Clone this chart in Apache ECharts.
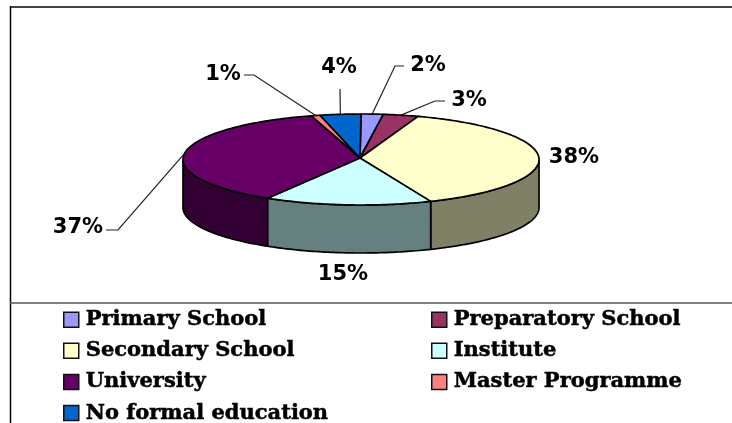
<!DOCTYPE html>
<html>
<head>
<meta charset="utf-8">
<style>html,body{margin:0;padding:0;background:#fff}#main{width:732px;height:423px}</style>
<script src="https://cdn.jsdelivr.net/npm/echarts@6/dist/echarts.min.js"></script>
</head>
<body>
<div id="main"></div>
<script>
var categories = ['Primary School', 'Preparatory School', 'Secondary School', 'Institute', 'University', 'Master Programme', 'No formal education'];
var shares = [2, 3.2, 38.4, 15.2, 36.7, 0.8, 3.7];
var topColors = ['#9999ff', '#993366', '#ffffcc', '#ccffff', '#660066', '#ff8080', '#0066cc'];
var sideColors = ['#4d4d80', '#4d1a33', '#808066', '#668080', '#330033', '#804040', '#003366'];
var leftLegend = ['Primary School', 'Secondary School', 'University', 'No formal education'];
var rightLegend = ['Preparatory School', 'Institute', 'Master Programme'];

// pie ellipse on the canvas
var cx = 361, cy = 159.5, rx = 178, ry = 45.5, depth = 48;

// label centre and leader elbow for each slice (null = no leader)
var labelPos = [[428, 66], [469, 101], [574, 158], [343, 275], [78, 228], [223, 75], [339, 68]];
var elbows = [[[395, 66], [404, 66]], [[435, 101], [445, 101]], null, null, [[118, 230], [106, 230]], [[254, 75], [244, 75]], null];
var leaderEnd = [null, null, null, null, null, null, [340, 89]];

var total = 0;
shares.forEach(function (v) { total += v; });

function pointAt(deg, drop) {
    var a = deg * Math.PI / 180;
    return [cx + rx * Math.sin(a), cy - ry * Math.cos(a) + (drop || 0)];
}

function arcPoints(from, to, drop) {
    var pts = [];
    var n = Math.max(2, Math.ceil(Math.abs(to - from)));
    for (var i = 0; i <= n; i++) {
        pts.push(pointAt(from + (to - from) * i / n, drop));
    }
    return pts;
}

function makeRenderItem(index) {
    return function (params, api) {
        var before = 0;
        for (var i = 0; i < index; i++) before += shares[i];
        var start = before / total * 360;
        var end = start + api.value(0) / total * 360;
        var mid = (start + end) / 2;
        var children = [];

        // side wall, only the front half of the rim shows
        var s = Math.max(start, 90), e = Math.min(end, 270);
        if (e > s) {
            var wall = arcPoints(s, e, 0).concat(arcPoints(e, s, depth));
            children.push({type: 'polygon', shape: {points: wall},
                style: {fill: sideColors[index], stroke: '#000', lineWidth: 1.7, lineJoin: 'round'}});
        }

        var face = [[cx - 1, cy - 1.5]].concat(arcPoints(start, end, 0));
        children.push({type: 'polygon', shape: {points: face},
            style: {fill: topColors[index], stroke: '#000', lineWidth: 1.7, lineJoin: 'round'}});

        var anchor = pointAt(mid, 0);
        var tail = elbows[index] || (leaderEnd[index] ? [leaderEnd[index]] : null);
        if (tail) {
            children.push({type: 'polyline', shape: {points: [anchor].concat(tail)},
                style: {fill: null, stroke: '#222', lineWidth: 1.2}});
        }

        children.push({type: 'text', style: {
            text: Math.round(api.value(0)) + '%',
            x: labelPos[index][0], y: labelPos[index][1],
            align: 'center', verticalAlign: 'middle',
            fill: '#000', font: 'bold 21px "DejaVu Sans"'
        }});
        return {type: 'group', children: children};
    };
}

var series = categories.map(function (name, i) {
    return {
        name: name,
        type: 'custom',
        coordinateSystem: 'none',
        silent: true,
        itemStyle: {color: topColors[i]},
        renderItem: makeRenderItem(i),
        data: [[shares[i]]]
    };
});

function legendAt(left, names) {
    return {
        data: names,
        orient: 'vertical',
        left: left,
        top: 304,
        height: 200,
        icon: 'rect',
        itemWidth: 15,
        itemHeight: 15,
        itemGap: 9.6,
        selectedMode: false,
        itemStyle: {borderColor: '#111', borderWidth: 1.5},
        textStyle: {
            color: '#000', fontFamily: 'DejaVu Serif', fontWeight: 'bold', fontSize: 21, lineHeight: 20,
            padding: [0, 0, 0, 2], textBorderColor: '#000', textBorderWidth: 0.5
        }
    };
}

var myChart = echarts.init(document.getElementById('main'), null, {renderer: 'canvas'});
myChart.setOption({
    animation: false,
    backgroundColor: '#fff',
    legend: [legendAt(58, leftLegend), legendAt(426, rightLegend)],
    graphic: [
        {type: 'line', shape: {x1: 10, y1: 7, x2: 732, y2: 7}, style: {stroke: '#444', lineWidth: 2}},
        {type: 'line', shape: {x1: 10.5, y1: 6, x2: 10.5, y2: 423}, style: {stroke: '#000', lineWidth: 1.5}},
        {type: 'line', shape: {x1: 10, y1: 303, x2: 732, y2: 303}, style: {stroke: '#555', lineWidth: 1.5}}
    ],
    series: series
});
</script>
</body>
</html>
